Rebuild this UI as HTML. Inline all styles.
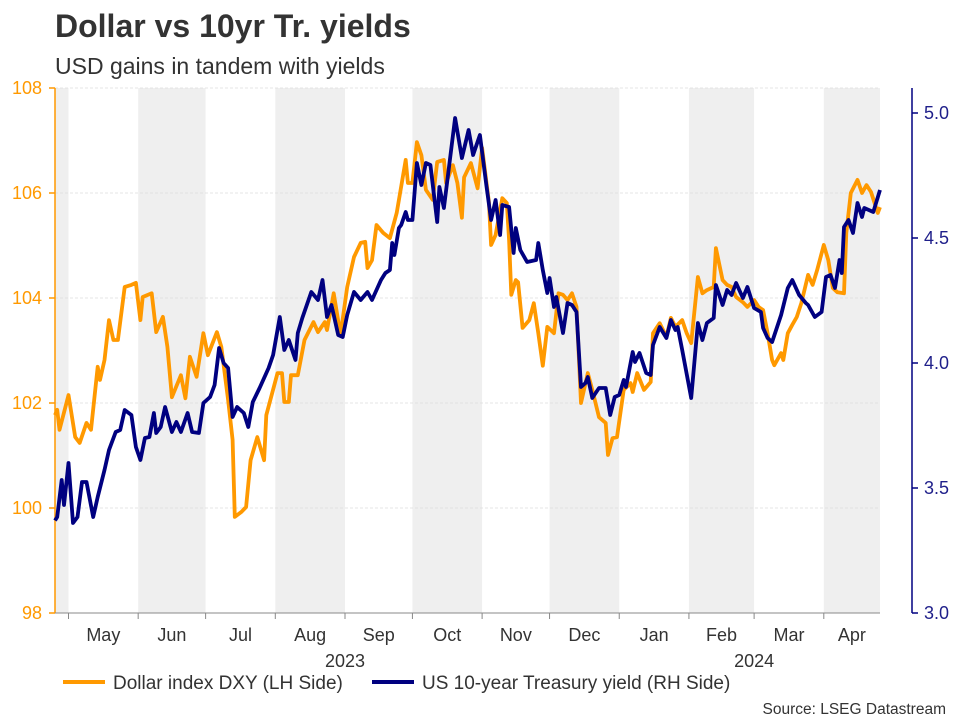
<!DOCTYPE html>
<html><head><meta charset="utf-8">
<style>
html,body{margin:0;padding:0;background:#fff;}
svg{display:block;font-family:"Liberation Sans",Arial,sans-serif;}
</style></head>
<body>
<svg id="chart" width="960" height="720" viewBox="0 0 960 720" xmlns="http://www.w3.org/2000/svg">
<text x="55" y="37" font-size="32" font-weight="bold" fill="#333">Dollar vs 10yr Tr. yields</text>
<text x="55" y="74" font-size="23" fill="#333">USD gains in tandem with yields</text>
<g id="bands"></g>
<g id="grid"></g>
<g id="axes"></g>
<g id="series"></g>
<g>
<line x1="63" y1="682" x2="105" y2="682" stroke="#ff9900" stroke-width="4"/>
<text x="113" y="689" font-size="19" fill="#333">Dollar index DXY (LH Side)</text>
<line x1="372" y1="682" x2="414" y2="682" stroke="#000080" stroke-width="4"/>
<text x="422" y="689" font-size="19" fill="#333">US 10-year Treasury yield (RH Side)</text>
</g>
<text x="946" y="714" font-size="15.5" fill="#333" text-anchor="end">Source: LSEG Datastream</text>
</svg>
<script>
// days counted from 2023-04-24
const dxyDays=[0,1,2,6,9,11,14,16,19,20,22,24,26,28,31,34,36,38,39,43,45,48,50,52,56,58,60,63,66,68,72,74,77,79,80,83,85,87,90,93,94,99,101,102,104,105,108,111,115,117,120,121,124,127,130,133,136,138,139,141,143,146,149,152,156,157,159,161,163,165,168,170,173,174,177,179,181,182,185,188,190,193,194,196,199,201,202,203,205,206,208,211,213,215,217,219,222,224,226,228,230,232,234,237,239,242,245,246,248,250,253,256,257,259,262,265,266,269,272,274,276,279,281,283,286,288,290,293,294,297,299,301,303,306,308,311,313,315,317,319,320,323,324,326,328,330,332,335,337,339,342,344,346,348,351,352,354,357,359,361,363,366,367];
const dxyValues=[101.77,101.87,101.49,102.15,101.35,101.24,101.62,101.49,102.69,102.44,102.82,103.58,103.2,103.2,104.21,104.25,104.29,103.58,104.02,104.09,103.35,103.64,103.07,102.11,102.53,102.09,102.88,102.5,103.33,102.91,103.35,103.07,102.06,101.3,99.83,99.93,100.02,100.91,101.35,100.91,101.77,102.57,102.57,102.02,102.02,102.53,102.53,103.2,103.54,103.35,103.54,103.39,104.09,103.3,104.21,104.78,105.05,105.07,104.57,104.72,105.39,105.24,105.14,105.62,106.63,106.19,106.19,106.97,106.72,106.06,105.87,106.59,106.63,106.19,106.53,106.19,105.53,106.3,106.57,106.09,106.86,105.83,105.01,105.2,105.9,105.81,105.1,104.06,104.34,104.3,103.43,103.58,103.9,103.33,102.71,103.45,103.33,104.09,104.06,103.96,104.09,103.83,102.0,102.57,102.25,101.73,101.62,101.01,101.33,101.35,102.25,102.38,102.21,102.57,102.25,102.4,103.33,103.52,103.26,103.62,103.45,103.58,103.33,103.14,104.4,104.09,104.15,104.21,104.95,104.34,104.25,104.21,104.02,103.92,103.83,103.96,103.83,103.77,103.33,102.82,102.72,102.95,102.82,103.33,103.49,103.64,103.9,104.44,104.25,104.53,105.01,104.72,104.19,104.11,104.09,105.24,106.0,106.25,106.0,106.15,106.02,105.62,105.73];
const ustDays=[0,1,3,4,6,8,10,12,14,17,19,22,24,27,29,31,34,36,38,40,42,44,45,47,49,52,54,56,59,61,64,66,69,71,73,75,77,79,81,84,86,88,91,95,97,100,102,104,107,108,110,114,117,119,121,123,126,128,130,133,136,139,141,145,147,149,150,151,153,154,156,157,159,161,163,165,167,170,171,173,178,181,184,186,189,192,194,196,198,199,202,204,205,207,210,214,215,217,219,220,222,223,226,228,230,232,234,236,237,239,242,245,247,249,251,253,254,257,258,260,263,265,266,269,272,274,276,277,279,283,286,288,290,293,294,297,299,301,303,306,308,311,314,315,317,319,323,326,328,331,334,335,338,341,343,345,347,349,350,351,353,355,357,359,360,364,367];
const ustValues=[3.37,3.384,3.532,3.432,3.6,3.36,3.384,3.524,3.524,3.384,3.464,3.572,3.652,3.724,3.732,3.812,3.792,3.664,3.612,3.7,3.704,3.8,3.72,3.744,3.824,3.724,3.764,3.724,3.8,3.724,3.72,3.84,3.864,3.912,4.06,4.0,3.98,3.784,3.824,3.8,3.744,3.844,3.9,3.98,4.032,4.184,4.052,4.092,4.012,4.12,4.18,4.284,4.252,4.332,4.184,4.232,4.112,4.104,4.192,4.284,4.252,4.284,4.252,4.332,4.36,4.372,4.48,4.432,4.54,4.552,4.604,4.572,4.572,4.8,4.712,4.8,4.792,4.564,4.704,4.62,4.98,4.82,4.932,4.832,4.912,4.704,4.572,4.652,4.512,4.632,4.624,4.44,4.54,4.452,4.404,4.412,4.48,4.372,4.28,4.34,4.224,4.264,4.12,4.24,4.232,4.204,3.904,3.92,3.944,3.86,3.9,3.9,3.792,3.864,3.872,3.932,3.904,4.044,4.004,4.04,3.96,3.952,4.072,4.144,4.1,4.172,4.132,4.144,4.052,3.86,4.16,4.092,4.16,4.18,4.312,4.232,4.292,4.272,4.32,4.26,4.304,4.22,4.204,4.14,4.1,4.084,4.192,4.3,4.332,4.272,4.24,4.232,4.184,4.204,4.344,4.352,4.3,4.412,4.36,4.544,4.572,4.52,4.64,4.584,4.62,4.604,4.692];
const leftTicks=[98,100,102,104,106,108];
const rightTicks=[3.0,3.5,4.0,4.5,5.0];
const monthLabels=["May","Jun","Jul","Aug","Sep","Oct","Nov","Dec","Jan","Feb","Mar","Apr"];
const monthStartDays=[6,37,67,98,129,159,190,220,251,282,311,342];
const yearLabels=["2023","2024"];
const yearCenterMonths=[4,10];

const NS="http://www.w3.org/2000/svg";
const PL=55,PR=880,PT=88,PB=613,DAYMAX=367;
function xS(d){return PL+(d/DAYMAX)*(PR-PL);}
function yL(v){return PB-(v-98)/(108-98)*(PB-PT);}
function yR(v){return PB-(v-3.0)/(5.1-3.0)*(PB-PT);}
function mk(tag,attrs,parent){const e=document.createElementNS(NS,tag);for(const k in attrs)e.setAttribute(k,attrs[k]);parent.appendChild(e);return e;}

const bands=document.getElementById('bands');
const bEdges=[0].concat(monthStartDays).concat([DAYMAX]);
for(let i=0;i<bEdges.length-1;i++){
  if(i%2===0){
    const r=mk('rect',{x:xS(bEdges[i]),y:PT,width:xS(bEdges[i+1])-xS(bEdges[i]),height:PB-PT,fill:'#efefef'},bands);
    
    
  }
}
const grid=document.getElementById('grid');
const axes=document.getElementById('axes');
leftTicks.forEach(v=>{
  const y=yL(v);
  if(v>98){const g=mk('line',{x1:PL,x2:PR,y1:y,y2:y,stroke:'#dcdcdc','stroke-dasharray':'3,2','stroke-width':0.8},grid);
    
    }
  mk('line',{x1:PL-6,x2:PL,y1:y,y2:y,stroke:'#ff9900','stroke-width':1.5},axes);
  const t=mk('text',{x:PL-13,y:y+6,'font-size':18,fill:'#ff9900','text-anchor':'end'},axes);
  t.textContent=v;
  
  
});
const la=mk('line',{x1:PL,x2:PL,y1:PT,y2:PB,stroke:'#ff9900','stroke-width':1.5},axes);


const RA=912;
const ra=mk('line',{x1:RA,x2:RA,y1:PT,y2:PB,stroke:'#000080','stroke-width':1.5},axes);


rightTicks.forEach(v=>{
  const y=yR(v);
  mk('line',{x1:RA,x2:RA+6,y1:y,y2:y,stroke:'#000080','stroke-width':1.5},axes);
  const t=mk('text',{x:RA+12,y:y+6,'font-size':18,fill:'#1f1f8a'},axes);
  t.textContent=v.toFixed(1);
  
  
});
const xa=mk('line',{x1:PL,x2:PR,y1:PB,y2:PB,stroke:'#888','stroke-width':1},axes);


monthStartDays.forEach((d,i)=>{
  mk('line',{x1:xS(d),x2:xS(d),y1:PB,y2:PB+6,stroke:'#888','stroke-width':1},axes);
  const end=i+1<monthStartDays.length?monthStartDays[i+1]:DAYMAX;
  const t=mk('text',{x:(xS(d)+xS(end))/2,y:641,'font-size':18,fill:'#333','text-anchor':'middle'},axes);
  t.textContent=monthLabels[i];
  
  
});
yearLabels.forEach((y,i)=>{
  const m=yearCenterMonths[i];
  const t=mk('text',{x:xS(monthStartDays[m]),y:667,'font-size':18,fill:'#333','text-anchor':'middle'},axes);
  t.textContent=y;
  
  
});
const series=document.getElementById('series');
function path(days,vals,yf,color,name){
  let d='';
  days.forEach((dd,i)=>{d+=(i?'L':'M')+xS(dd).toFixed(1)+','+yf(vals[i]).toFixed(1);});
  const p=mk('path',{d:d,fill:'none',stroke:color,'stroke-width':3.8,'stroke-linejoin':'round'},series);
  
  
}
path(dxyDays,dxyValues,yL,'#ff9900','dxy-line');
path(ustDays,ustValues,yR,'#000080','us10y-yield-line');
</script>
</body></html>
